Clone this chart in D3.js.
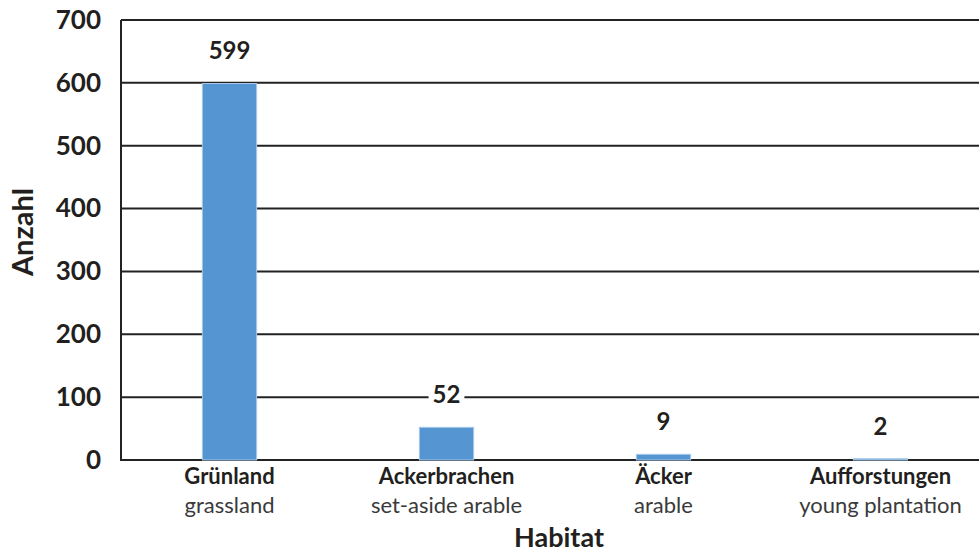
<!DOCTYPE html>
<html>
<head>
<meta charset="utf-8">
<script src="https://cdn.jsdelivr.net/npm/d3@7"></script>
<style>
  body { margin: 0; background: #fff; }
  svg { display: block; font-family: Lato, "Open Sans", sans-serif; }
</style>
</head>
<body>
<svg id="barchart"></svg>
<script>
var categories = ["Grünland", "Ackerbrachen", "Äcker", "Aufforstungen"];
var categoriesEn = ["grassland", "set-aside arable", "arable", "young plantation"];
var counts = [599, 52, 9, 2];
var yTicks = [0, 100, 200, 300, 400, 500, 600, 700];

var dd = {
    width: 979,
    height: 552,
    margin: { top: 20, bottom: 92, right: 0, left: 121 }
}

var svg = d3.select("#barchart")
    .attr("width", dd.width)
    .attr("height", dd.height)

var data = categories.map(function(c, i) {
    return { name: c, en: categoriesEn[i], value: counts[i] };
});

var xScale = d3.scaleBand()
    .domain(categories)
    .range([dd.margin.left, 989])
    .paddingInner(0.75)
    .paddingOuter(0.375);

var yScale = d3.scaleLinear()
    .domain([0, 700])
    .range([dd.height - dd.margin.bottom, dd.margin.top]);

// gridlines
svg.append("g")
    .selectAll("line")
    .data(yTicks)
    .enter().append("line")
    .attr("x1", dd.margin.left)
    .attr("x2", dd.width)
    .attr("y1", function(d) { return yScale(d); })
    .attr("y2", function(d) { return yScale(d); })
    .attr("stroke", "#222")
    .attr("stroke-width", 2);

// y axis line
svg.append("line")
    .attr("x1", dd.margin.left).attr("x2", dd.margin.left)
    .attr("y1", yScale(700)).attr("y2", yScale(0) + 1)
    .attr("stroke", "#222")
    .attr("stroke-width", 2);

// y tick labels
var yAxisGen = d3.axisLeft(yScale).tickValues(yTicks).tickSize(0).tickPadding(20);
var yAxis = svg.append("g")
    .attr("transform", "translate(" + dd.margin.left + ",0)")
    .call(yAxisGen);
yAxis.select(".domain").remove();
yAxis.selectAll("text")
    .attr("font-family", "Lato, 'Open Sans', sans-serif")
    .attr("font-size", 26)
    .attr("font-weight", "bold")
    .attr("fill", "#231f20");

// bars
svg.selectAll(".bar")
    .data(data)
    .enter().append("rect")
    .attr("class", "bar")
    .attr("x", function(d) { return xScale(d.name); })
    .attr("y", function(d) { return yScale(d.value); })
    .attr("width", xScale.bandwidth())
    .attr("height", function(d) { return yScale(0) - yScale(d.value); })
    .attr("fill", "#5596d2")
    .attr("stroke", "#a6c8e8")
    .attr("stroke-width", 1);

// value labels with white background
var vl = svg.selectAll(".val")
    .data(data)
    .enter().append("g")
    .attr("class", "val")
    .attr("transform", function(d) {
        return "translate(" + (xScale(d.name) + xScale.bandwidth() / 2) + "," + (yScale(d.value) - 24) + ")";
    });
vl.append("rect")
    .attr("fill", "#fff");
vl.append("text")
    .attr("text-anchor", "middle")
    .attr("font-size", 24)
    .attr("font-weight", "bold")
    .attr("fill", "#231f20")
    .text(function(d) { return d.value; });
vl.each(function() {
    var g = d3.select(this);
    var b = g.select("text").node().getBBox();
    g.select("rect")
        .attr("x", b.x - 4).attr("y", b.y + 2)
        .attr("width", b.width + 8).attr("height", b.height - 4);
});

// category labels
var cl = svg.selectAll(".cat")
    .data(data)
    .enter().append("g")
    .attr("class", "cat")
    .attr("transform", function(d) { return "translate(" + (xScale(d.name) + xScale.bandwidth() / 2) + ",0)"; });
cl.append("text")
    .attr("y", 484)
    .attr("text-anchor", "middle")
    .attr("font-size", 22)
    .attr("font-weight", "bold")
    .attr("fill", "#231f20")
    .text(function(d) { return d.name; });
cl.append("text")
    .attr("y", 513)
    .attr("text-anchor", "middle")
    .attr("font-size", 22)
    .attr("fill", "#3a3a3a")
    .text(function(d) { return d.en; });

// axis titles
svg.append("text")
    .attr("x", 559)
    .attr("y", 547)
    .attr("text-anchor", "middle")
    .attr("font-size", 27)
    .attr("font-weight", "bold")
    .attr("fill", "#231f20")
    .text("Habitat");

svg.append("text")
    .attr("transform", "translate(33,232) rotate(-90)")
    .attr("text-anchor", "middle")
    .attr("font-size", 29)
    .attr("font-weight", "bold")
    .attr("fill", "#231f20")
    .text("Anzahl");
</script>
</body>
</html>
